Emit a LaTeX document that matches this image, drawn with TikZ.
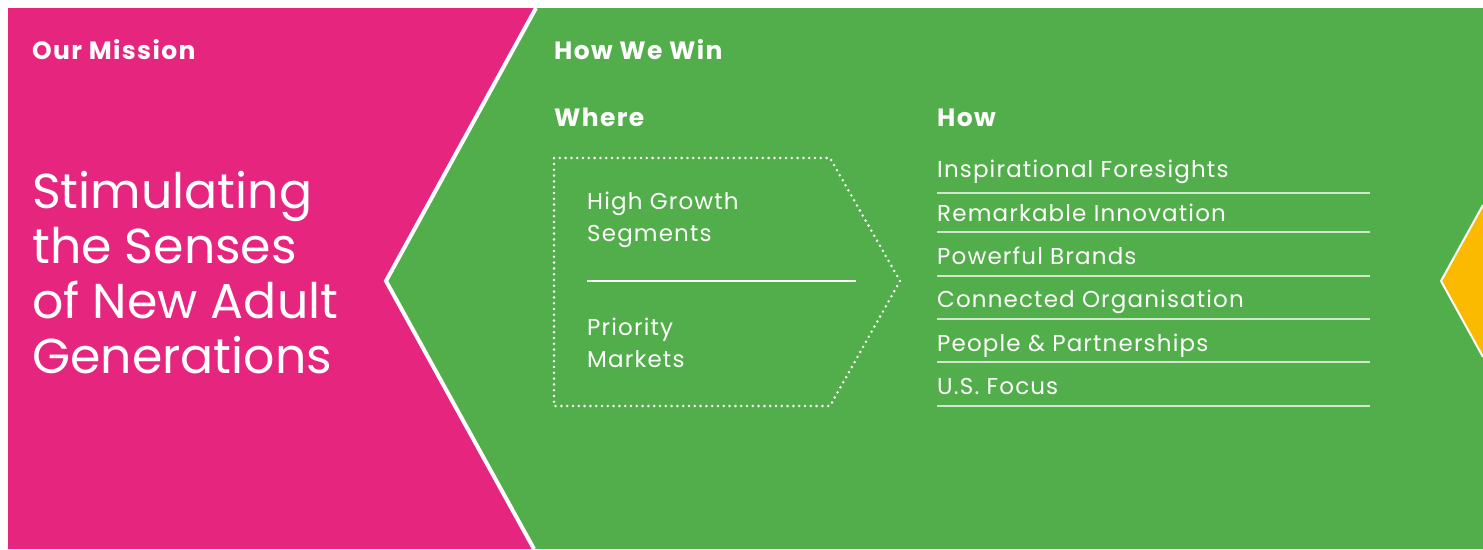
\documentclass[tikz,border=0pt]{standalone}
\usepackage{fontspec}
\setmainfont{Poppins}
\newfontfamily\headfont[LetterSpace=5.5]{Poppins}
\newfontfamily\bodyfont[LetterSpace=5]{Poppins}
\definecolor{mpink}{HTML}{E6257F}
\definecolor{mgreen}{HTML}{52AE4A}
\definecolor{myellow}{HTML}{FBB900}
\tikzset{
  head/.style={anchor=base west, inner sep=0pt, text=white, font=\fontsize{25}{28}\headfont\bfseries},
  big/.style={anchor=base west, inner sep=0pt, text=white, align=left, font=\fontsize{49}{55}\selectfont},
  body/.style={anchor=base west, inner sep=0pt, text=white, align=left, font=\fontsize{23}{32}\bodyfont},
  sep/.style={draw=white!72!mgreen, line width=1.4pt},
  dotbox/.style={draw=white, line width=2.8pt, line cap=round, dash pattern=on 0pt off 5.8pt}
}
\begin{document}
\begin{tikzpicture}[x=1pt,y=-1pt]
\useasboundingbox (0,0) rectangle (1483,549);
\fill[white] (0,0) rectangle (1483,549);
\fill[mgreen] (8,8) rectangle (1483,549);
\fill[mpink] (8,8) -- (536,8) -- (386,281) -- (534,549) -- (8,549) -- cycle;
\fill[myellow] (1483,205) -- (1441,281) -- (1483,357) -- cycle;
\draw[white, line width=4pt] (536,8) -- (386,281) -- (534,549);
\draw[white, line width=2pt] (1483,205) -- (1441,281) -- (1483,357);

\node[head] (mission) at (32,59) {Our Mission};
\node[big] (stim) at (32,373) {Stimulating\\the Senses\\of New Adult\\Generations};

\node[head] (win) at (554,59) {How We Win};
\node[head] (where) at (554,126) {Where};
\node[head] (how) at (937,126) {How};

\draw[dotbox] (554,158) -- (830,158) -- (900,281) -- (830,406) -- (554,406) -- cycle;
\node[body] (hgs) at (587,241) {High Growth\\Segments};
\node[body] (pm) at (587,367) {Priority\\Markets};
\coordinate (dl) at (587,281);
\coordinate (dr) at (856,281);
\draw[white, line width=2pt] (dl) -- (dr);

\node[body] (h1) at (937,177) {Inspirational Foresights};
\node[body] (h2) at (937,221) {Remarkable Innovation};
\node[body] (h3) at (937,264) {Powerful Brands};
\node[body] (h4) at (937,307) {Connected Organisation};
\node[body] (h5) at (937,351) {People \& Partnerships};
\node[body] (h6) at (937,394) {U.S. Focus};
\foreach \y in {193,232,276,319,362,406}{
  \draw[sep] (937,\y) -- (1370,\y);
}
\end{tikzpicture}
\end{document}
